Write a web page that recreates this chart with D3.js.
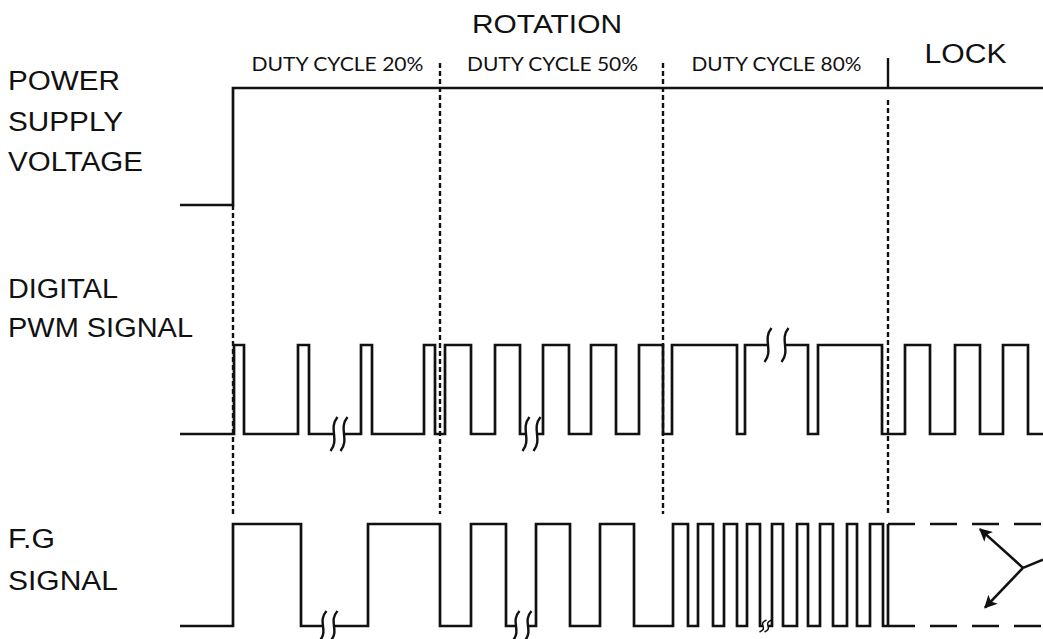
<!DOCTYPE html>
<html>
<head>
<meta charset="utf-8">
<script src="https://cdn.jsdelivr.net/npm/d3@7"></script>
<style>
  html, body { margin: 0; padding: 0; background: #fff; }
  svg { display: block; }
</style>
</head>
<body>
<svg id="chart" width="1043" height="639"></svg>
<script>
// ---------------- DATA (time units) ----------------
const timeDomain = [0, 863];
// section boundaries: start of 20%, 50%, 80%, lock
const boundaries = [53, 260, 483, 708];
const sectionLabels = ["DUTY CYCLE 20%", "DUTY CYCLE 50%", "DUTY CYCLE 80%", "LOCK"];
const sectionLabelWidths = [172, 171, 170, 82];
const groupLabel = "ROTATION";
const groupLabelAt = 367;

// signal rows labels
const powerLabel = ["POWER", "SUPPLY", "VOLTAGE"];
const powerLabelWidths = [112, 115, 135];
const pwmLabel = ["DIGITAL", "PWM SIGNAL"];
const pwmLabelWidths = [110, 185];
const fgLabel = ["F.G", "SIGNAL"];
const fgLabelWidths = [47, 110];

// power supply: starts low, toggles at these times
const powerToggles = [53];
// PWM: starts low, toggles
const pwmToggles = [54, 64, 118, 129, 181, 192, 244, 255, 265, 291, 315, 340, 363, 389,
  411, 436, 459, 483, 492, 557, 565, 628, 638, 702, 725, 750, 775, 800, 823, 848];
// F.G: starts low, toggles, ends at lock start
const fgToggles = [53, 121, 188, 260, 291, 326, 356, 390, 420, 454, 493, 508, 518, 533,
  544, 557, 567, 580, 592, 603, 617, 628, 640, 653, 667, 677, 690, 703];
const fgEnd = 708;

// break marks: [t1, t2, level]
const pwmBreaks = [[154, 164, 0], [346, 357, 0], [588, 605, 1]];
const fgBreaks = [[143, 154, 0], [336, 348, 0]];
const fgSmallBreak = [583, 588, 0];

// lock arrows (time, level)
const lockJunction = [843, 0.57];
const lockArrowTips = [[800, 0.95], [805, 0.18]];
const lockTail = [863, 0.65];

// ---------------- LAYOUT ----------------
const svg = d3.select("#chart");
const x = d3.scaleLinear().domain(timeDomain).range([180, 1043]);
const yPower = d3.scaleLinear().domain([0, 1]).range([205, 88]);
const yPwm = d3.scaleLinear().domain([0, 1]).range([434, 345]);
const yFg = d3.scaleLinear().domain([0, 1]).range([626, 524]);
const ink = "#111";
const SW = 2.7;

function wavePoints(toggles, endT) {
  const pts = [];
  let lvl = 0;
  pts.push([timeDomain[0], lvl]);
  toggles.forEach(t => { pts.push([t, lvl]); lvl = 1 - lvl; pts.push([t, lvl]); });
  pts.push([endT, lvl]);
  return pts;
}
function drawWave(pts, y) {
  const line = d3.line().x(d => x(d[0])).y(d => y(d[1])).curve(d3.curveLinear);
  svg.append("path").attr("d", line(pts)).attr("fill", "none")
    .attr("stroke", ink).attr("stroke-width", SW).attr("stroke-linejoin", "miter");
}

// dashed vertical separators
const dashTop = [null, 63, 63, 100];
boundaries.forEach((b, i) => {
  const top = i === 0 ? yPower(0) : dashTop[i];
  svg.append("line").attr("x1", x(b)).attr("x2", x(b)).attr("y1", top).attr("y2", 514)
    .attr("stroke", ink).attr("stroke-width", 2.4).attr("stroke-dasharray", "5,3");
});
// solid tick at lock boundary
svg.append("line").attr("x1", x(boundaries[3])).attr("x2", x(boundaries[3]))
  .attr("y1", 58).attr("y2", yPower(1)).attr("stroke", ink).attr("stroke-width", 2.4);

// waves
drawWave(wavePoints(powerToggles, timeDomain[1]), yPower);
drawWave(wavePoints(pwmToggles, timeDomain[1]), yPwm);
drawWave(wavePoints(fgToggles, fgEnd), yFg);

// lock region of F.G : solid left edge, dashed top & bottom
svg.append("line").attr("x1", x(fgEnd)).attr("x2", x(fgEnd)).attr("y1", yFg(0)).attr("y2", yFg(1))
  .attr("stroke", ink).attr("stroke-width", SW);
[0, 1].forEach(l => {
  svg.append("line").attr("x1", x(fgEnd)).attr("x2", x(timeDomain[1])).attr("y1", yFg(l)).attr("y2", yFg(l))
    .attr("stroke", ink).attr("stroke-width", SW).attr("stroke-dasharray", "27,15");
});

// arrows
const defs = svg.append("defs");
defs.append("marker").attr("id", "arr").attr("viewBox", "0 0 10 10").attr("refX", 9).attr("refY", 5)
  .attr("markerWidth", 17).attr("markerHeight", 13).attr("orient", "auto")
  .attr("markerUnits", "userSpaceOnUse")
  .append("path").attr("d", "M0,0 L10,5 L0,10 L2.5,5 Z").attr("fill", ink);
svg.append("line").attr("x1", x(lockTail[0])).attr("y1", yFg(lockTail[1]))
  .attr("x2", x(lockJunction[0])).attr("y2", yFg(lockJunction[1]))
  .attr("stroke", ink).attr("stroke-width", 2.6);
lockArrowTips.forEach(tp => {
  svg.append("line").attr("x1", x(lockJunction[0])).attr("y1", yFg(lockJunction[1]))
    .attr("x2", x(tp[0])).attr("y2", yFg(tp[1]))
    .attr("stroke", ink).attr("stroke-width", 2.6).attr("marker-end", "url(#arr)");
});

// break marks
function sCurve(cx, cy, h) {
  return `M${cx + 3.5},${cy - h} C${cx - 6},${cy - h * 0.3} ${cx + 6},${cy + h * 0.3} ${cx - 3.5},${cy + h}`;
}
function drawBreak(b, y, h, sw) {
  const cy = y(b[2]);
  svg.append("rect").attr("x", x(b[0])).attr("y", cy - 3).attr("width", x(b[1]) - x(b[0])).attr("height", 6)
    .attr("fill", "#fff");
  [b[0], b[1]].forEach(t => {
    svg.append("path").attr("d", sCurve(x(t), cy, h)).attr("fill", "none")
      .attr("stroke", ink).attr("stroke-width", sw);
  });
}
pwmBreaks.forEach(b => drawBreak(b, yPwm, 17, 2.4));
fgBreaks.forEach(b => drawBreak(b, yFg, 15, 2.4));
drawBreak(fgSmallBreak, yFg, 6, 1.5);

// ---------------- TEXT ----------------
function leftLabel(lines, widths, baselines) {
  lines.forEach((s, i) => {
    svg.append("text").attr("x", 8).attr("y", baselines[i]).text(s)
      .attr("font-family", "'Liberation Sans', Arial, sans-serif").attr("font-size", 27)
      .attr("fill", ink).attr("textLength", widths[i]).attr("lengthAdjust", "spacingAndGlyphs");
  });
}
leftLabel(powerLabel, powerLabelWidths, [90, 131, 171]);
leftLabel(pwmLabel, pwmLabelWidths, [298, 337]);
leftLabel(fgLabel, fgLabelWidths, [548, 590]);

svg.append("text").attr("x", x(groupLabelAt)).attr("y", 33).attr("text-anchor", "middle")
  .text(groupLabel).attr("font-family", "'Liberation Sans', Arial, sans-serif").attr("font-size", 25)
  .attr("fill", ink).attr("textLength", 150).attr("lengthAdjust", "spacingAndGlyphs");

const sectionEnds = boundaries.slice(1).concat([timeDomain[1] + 4]);
sectionLabels.forEach((s, i) => {
  const mid = (boundaries[i] + sectionEnds[i]) / 2;
  const lock = i === 3;
  svg.append("text").attr("x", x(mid) + (lock ? -2 : 1)).attr("y", lock ? 63 : 71).attr("text-anchor", "middle")
    .text(s)
    .attr("font-family", lock ? "'Liberation Sans', Arial, sans-serif" : "Lato, 'Open Sans', sans-serif")
    .attr("font-weight", 400)
    .attr("font-size", lock ? 27 : 20)
    .attr("fill", ink)
    .attr("textLength", sectionLabelWidths[i]).attr("lengthAdjust", "spacingAndGlyphs");
});
</script>
</body>
</html>
